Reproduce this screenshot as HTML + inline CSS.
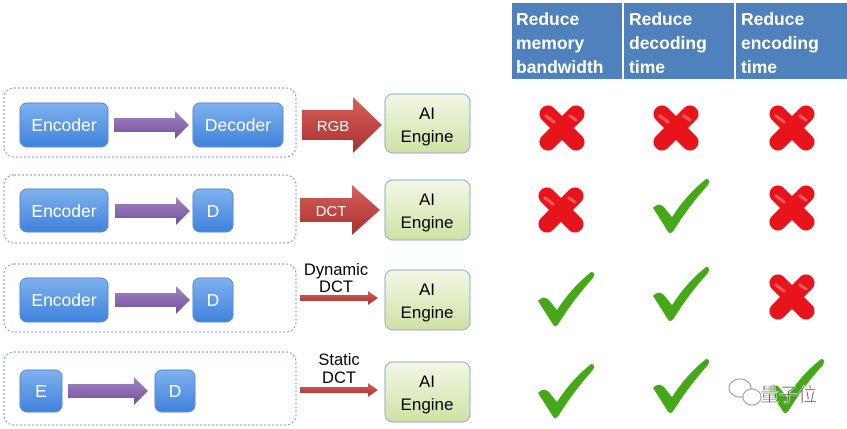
<!DOCTYPE html>
<html><head><meta charset="utf-8"><style>
html,body{margin:0;padding:0;background:#fff;}
svg{display:block;font-family:"Liberation Sans",sans-serif;}
</style></head><body>
<svg width="847" height="429" viewBox="0 0 847 429" xmlns="http://www.w3.org/2000/svg">
<defs>
<linearGradient id="blue" x1="0" y1="0" x2="0" y2="1"><stop offset="0" stop-color="#7fb2ee"/><stop offset="1" stop-color="#3f82dc"/></linearGradient>
<linearGradient id="green" x1="0" y1="0" x2="0" y2="1"><stop offset="0" stop-color="#f3f8e6"/><stop offset="1" stop-color="#cfe2a4"/></linearGradient>
<linearGradient id="purple" x1="0" y1="0" x2="0" y2="1"><stop offset="0" stop-color="#a786c6"/><stop offset="1" stop-color="#6f4f9a"/></linearGradient>
<linearGradient id="red" x1="0" y1="0" x2="0" y2="1"><stop offset="0" stop-color="#d9605c"/><stop offset="1" stop-color="#a8322e"/></linearGradient>
<g id="x"><path d="M-14,-14 L14,14 M14,-14 L-14,14" stroke="#e8141c" stroke-width="17" stroke-linecap="round"/><path d="M-16,-12 L-8,-6 M8,-12 L14,-8" stroke="#ff8a8a" stroke-width="3" stroke-linecap="round" opacity=".6"/></g>
<g id="c"><path d="M-27,3 Q-22,-3 -16,2 L-8,12 Q6,-10 26,-26 Q31,-26 28,-20 Q9,1 -6,25 Q-10,31 -13,25 Z" fill="#44a818"/></g>
</defs>
<rect x="512" y="3" width="110" height="76" fill="#4f81bd"/>
<rect x="624" y="3" width="110" height="76" fill="#4f81bd"/>
<rect x="736" y="3" width="111" height="76" fill="#4f81bd"/>
<g fill="#fff" font-weight="bold" font-size="17.5">
<text x="516" y="25">Reduce</text><text x="516" y="49">memory</text><text x="516" y="73">bandwidth</text>
<text x="629" y="25">Reduce</text><text x="629" y="49">decoding</text><text x="629" y="73">time</text>
<text x="741" y="25">Reduce</text><text x="741" y="49">encoding</text><text x="741" y="73">time</text>
</g>
<g fill="none" stroke="#7f93b8" stroke-dasharray="2,2" stroke-width="1">
<rect x="4" y="88" width="292" height="69" rx="10"/>
<rect x="4" y="175" width="292" height="68" rx="10"/>
<rect x="4" y="264" width="292" height="68" rx="10"/>
<rect x="4" y="352" width="292" height="73" rx="10"/>
</g>
<g fill="url(#blue)" stroke="#5b8ed6">
<rect x="20" y="103" width="88" height="44" rx="7"/>
<rect x="193" y="103" width="90" height="44" rx="7"/>
<rect x="20" y="189" width="88" height="43" rx="7"/>
<rect x="193" y="189" width="40" height="43" rx="7"/>
<rect x="20" y="278" width="88" height="44" rx="7"/>
<rect x="193" y="278" width="40" height="44" rx="7"/>
<rect x="20" y="370" width="42" height="42" rx="7"/>
<rect x="155" y="370" width="40" height="42" rx="7"/>
</g>
<g fill="#fff" font-size="17.5" text-anchor="middle">
<text x="64" y="131">Encoder</text><text x="238" y="131">Decoder</text>
<text x="64" y="217">Encoder</text><text x="213" y="217">D</text>
<text x="64" y="306">Encoder</text><text x="213" y="306">D</text>
<text x="41" y="397">E</text><text x="175" y="397">D</text>
</g>
<g fill="url(#purple)">
<path d="M114,118 H175 V111 L189,125 L175,139 V132 H114Z"/>
<path d="M115,204 H176 V197 L190,211 L176,225 V218 H115Z"/>
<path d="M115,293 H176 V286 L190,300 L176,314 V307 H115Z"/>
<path d="M68,384 H134 V377 L148,391 L134,405 V398 H68Z"/>
</g>
<g fill="url(#red)">
<path d="M302,110 H353 V97 L382,125 L353,153 V140 H302Z"/>
<path d="M300,198 H352 V185 L380,210 L352,235 V222 H300Z"/>
<path d="M300,295 H368 V291 L378,298 L368,305 V301 H300Z"/>
<path d="M300,387 H368 V383 L378,390 L368,397 V393 H300Z"/>
</g>
<g fill="#fff" font-size="15" text-anchor="middle"><text x="333" y="131">RGB</text><text x="331" y="216">DCT</text></g>
<g fill="#000" font-size="16.5" text-anchor="middle">
<text x="336" y="275">Dynamic</text><text x="336" y="292">DCT</text>
<text x="339" y="365">Static</text><text x="339" y="383">DCT</text>
</g>
<g fill="url(#green)" stroke="#8fb0d0">
<rect x="385" y="94" width="85" height="59" rx="8"/>
<rect x="385" y="180" width="85" height="60" rx="8"/>
<rect x="385" y="270" width="85" height="60" rx="8"/>
<rect x="385" y="362" width="85" height="60" rx="8"/>
</g>
<g fill="#000" font-size="17" text-anchor="middle">
<text x="427" y="119">AI</text><text x="427" y="142">Engine</text>
<text x="427" y="205">AI</text><text x="427" y="228">Engine</text>
<text x="427" y="295">AI</text><text x="427" y="318">Engine</text>
<text x="427" y="387">AI</text><text x="427" y="410">Engine</text>
</g>
<use href="#x" x="562" y="128"/><use href="#x" x="676" y="128"/><use href="#x" x="792" y="128"/>
<use href="#x" x="561" y="210"/><use href="#c" x="680" y="205"/><use href="#x" x="792" y="208"/>
<use href="#c" x="565" y="298"/><use href="#c" x="680" y="293"/><use href="#x" x="792" y="297"/>
<use href="#c" x="565" y="390"/><use href="#c" x="680" y="385"/><use href="#c" x="795" y="385"/>
<g fill="none" stroke="#999" stroke-width="1"><ellipse cx="740" cy="388" rx="11" ry="9"/><ellipse cx="752" cy="397" rx="9" ry="8" fill="#fff"/></g>
<text x="760" y="401" font-size="19" fill="#555" stroke="#fff" stroke-width=".5" font-family="'Noto Sans CJK SC',sans-serif">量子位</text>
</svg>
</body></html>
